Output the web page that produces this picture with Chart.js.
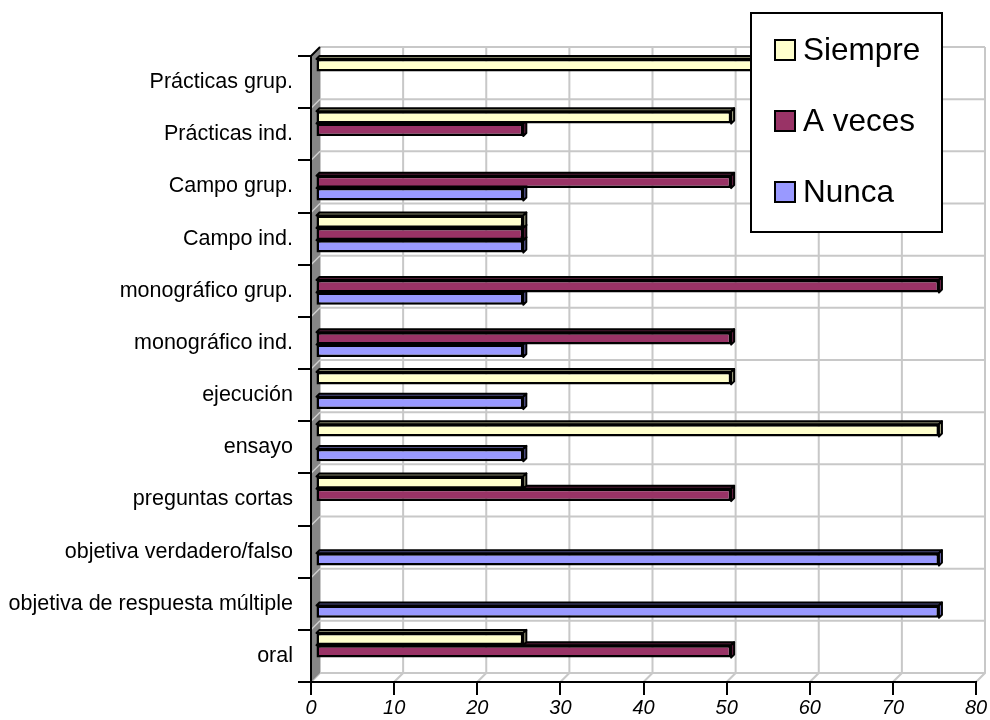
<!DOCTYPE html>
<html>
<head>
<meta charset="utf-8">
<script src="https://cdn.jsdelivr.net/npm/chart.js@4"></script>
<style>
    body { margin: 0; background: #fff; }
    canvas { display: block; }
</style>
</head>
<body>
<canvas id="graficaEvaluacion" width="990" height="720"></canvas>
<script>
const categorias = ['Prácticas grup.', 'Prácticas ind.', 'Campo grup.', 'Campo ind.', 'monográfico grup.', 'monográfico ind.',
    'ejecución', 'ensayo', 'preguntas cortas', 'objetiva verdadero/falso', 'objetiva de respuesta múltiple', 'oral'];
const siempre = [75, 50, 0, 25, 0, 0, 50, 75, 25, 0, 0, 25];
const aVeces = [0, 25, 50, 25, 75, 50, 0, 0, 50, 0, 0, 50];
const nunca = [0, 0, 25, 25, 25, 25, 25, 25, 0, 75, 75, 0];
const ticksX = [0, 10, 20, 30, 40, 50, 60, 70, 80];

const fuente = "'Liberation Sans', Arial, sans-serif";
const PROF = 9;      // profundidad de las paredes
const PROF_BARRA = 3;

function oscurecer(hex, f) {
    const n = parseInt(hex.slice(1), 16);
    const r = Math.round(((n >> 16) & 255) * f), g = Math.round(((n >> 8) & 255) * f), b = Math.round((n & 255) * f);
    return `rgb(${r},${g},${b})`;
}

// paredes del fondo, pared izquierda y suelo
const paredes = {
    id: 'paredes',
    beforeDraw(chart) {
        const c = chart.ctx, a = chart.chartArea;
        const sx = chart.scales.x;
        c.save();
        c.fillStyle = '#fff';
        c.fillRect(0, 0, chart.width, chart.height);
        c.strokeStyle = '#c8c8c8';
        c.lineWidth = 2;
        // rejilla horizontal en los límites de categoría
        const paso = (a.bottom - a.top) / categorias.length;
        for (let k = 0; k <= categorias.length; k++) {
            const y = a.top + k * paso - PROF;
            c.beginPath();
            c.moveTo(a.left + PROF, y);
            c.lineTo(a.right + PROF, y);
            c.stroke();
        }
        // rejilla vertical y líneas del suelo
        ticksX.forEach(v => {
            const x = sx.getPixelForValue(v);
            c.beginPath();
            c.moveTo(x + PROF, a.top - PROF);
            c.lineTo(x + PROF, a.bottom - PROF);
            c.lineTo(x, a.bottom);
            c.stroke();
        });
        // pared izquierda
        c.fillStyle = '#868686';
        c.beginPath();
        c.moveTo(a.left, a.top);
        c.lineTo(a.left + PROF, a.top - PROF);
        c.lineTo(a.left + PROF, a.bottom - PROF);
        c.lineTo(a.left, a.bottom);
        c.closePath();
        c.fill();
        c.strokeStyle = '#d0d0d0';
        c.lineWidth = 1.5;
        for (let k = 1; k < categorias.length; k++) {
            const y = a.top + k * paso;
            c.beginPath();
            c.moveTo(a.left, y);
            c.lineTo(a.left + PROF, y - PROF);
            c.stroke();
        }
        c.strokeStyle = '#000';
        c.lineWidth = 2;
        c.beginPath();
        c.moveTo(a.left, a.top);
        c.lineTo(a.left + PROF, a.top - PROF);
        c.stroke();
        c.restore();
    }
};

// barras desplazadas hacia el fondo, con cara superior y lateral
const barras3d = {
    id: 'barras3d',
    beforeDatasetsDraw(chart) {
        chart.ctx.save();
        chart.ctx.translate(PROF / 2, -PROF / 2);
    },
    afterDatasetDraw(chart, args) {
        const c = chart.ctx;
        const ds = chart.data.datasets[args.index];
        args.meta.data.forEach(el => {
            const p = el.getProps(['x', 'y', 'base', 'height'], true);
            if (p.x == null || isNaN(p.x) || Math.abs(p.x - p.base) < 1) return;
            const izq = Math.min(p.x, p.base), der = Math.max(p.x, p.base);
            const arriba = p.y - p.height / 2, abajo = p.y + p.height / 2;
            const d = PROF_BARRA;
            c.save();
            c.strokeStyle = '#000';
            c.lineWidth = 2;
            c.lineJoin = 'round';
            c.fillStyle = oscurecer(ds.backgroundColor, 0.5);
            c.beginPath();
            c.moveTo(izq, arriba);
            c.lineTo(izq + d, arriba - d);
            c.lineTo(der + d, arriba - d);
            c.lineTo(der, arriba);
            c.closePath();
            c.fill();
            c.stroke();
            c.fillStyle = oscurecer(ds.backgroundColor, 0.7);
            c.beginPath();
            c.moveTo(der, arriba);
            c.lineTo(der + d, arriba - d);
            c.lineTo(der + d, abajo - d);
            c.lineTo(der, abajo);
            c.closePath();
            c.fill();
            c.stroke();
            c.restore();
        });
    },
    afterDatasetsDraw(chart) {
        chart.ctx.restore();
    }
};

// leyenda con recuadro, encima del gráfico
const leyenda = {
    id: 'leyendaCaja',
    afterDraw(chart) {
        const c = chart.ctx;
        c.save();
        c.fillStyle = '#fff';
        c.fillRect(751, 13, 191, 219);
        c.strokeStyle = '#000';
        c.lineWidth = 2;
        c.strokeRect(751, 13, 191, 219);
        c.font = '31.5px ' + fuente;
        c.textBaseline = 'middle';
        chart.data.datasets.forEach((ds, i) => {
            const y = 50 + i * 71;
            c.fillStyle = ds.backgroundColor;
            c.fillRect(775, y - 10, 20, 20);
            c.lineWidth = 2;
            c.strokeRect(775, y - 10, 20, 20);
            c.fillStyle = '#000';
            c.fillText(ds.label, 803, y + 1);
        });
        c.restore();
    }
};

const sinCeros = arr => arr.map(v => v === 0 ? null : v);

const ctx = document.getElementById('graficaEvaluacion').getContext('2d');
new Chart(ctx, {
    type: 'bar',
    data: {
        labels: categorias,
        datasets: [
            { label: 'Siempre', data: sinCeros(siempre), backgroundColor: '#FFFFCC' },
            { label: 'A veces', data: sinCeros(aVeces), backgroundColor: '#993366' },
            { label: 'Nunca', data: sinCeros(nunca), backgroundColor: '#9999FF' }
        ]
    },
    options: {
        indexAxis: 'y',
        responsive: false,
        devicePixelRatio: 1,
        animation: false,
        datasets: {
            bar: {
                borderColor: '#000',
                borderWidth: 2.5,
                borderSkipped: false,
                categoryPercentage: 0.71,
                barPercentage: 1,
                clip: false
            }
        },
        layout: { padding: { left: 0, top: 56, right: 14, bottom: 0 } },
        plugins: {
            legend: { display: false },
            tooltip: { enabled: false },
            title: { display: false }
        },
        scales: {
            x: {
                min: 0,
                max: 80,
                afterBuildTicks: s => { s.ticks = ticksX.map(v => ({ value: v })); },
                afterFit: s => { s.height = 38; },
                ticks: {
                    color: '#000',
                    font: { family: fuente, size: 20, style: 'italic' },
                    padding: 1,
                    maxRotation: 0
                },
                grid: { drawOnChartArea: false, drawTicks: true, tickLength: 13, color: '#000', lineWidth: 2 },
                border: { color: '#000', width: 2 }
            },
            y: {
                afterFit: s => { s.width = 311; },
                ticks: {
                    color: '#000',
                    font: { family: fuente, size: 21.5 },
                    padding: 5,
                    autoSkip: false
                },
                grid: { offset: true, drawOnChartArea: false, drawTicks: true, tickLength: 13, color: '#000', lineWidth: 2 },
                border: { color: '#000', width: 2 }
            }
        }
    },
    plugins: [paredes, barras3d, leyenda]
});
</script>
</body>
</html>
